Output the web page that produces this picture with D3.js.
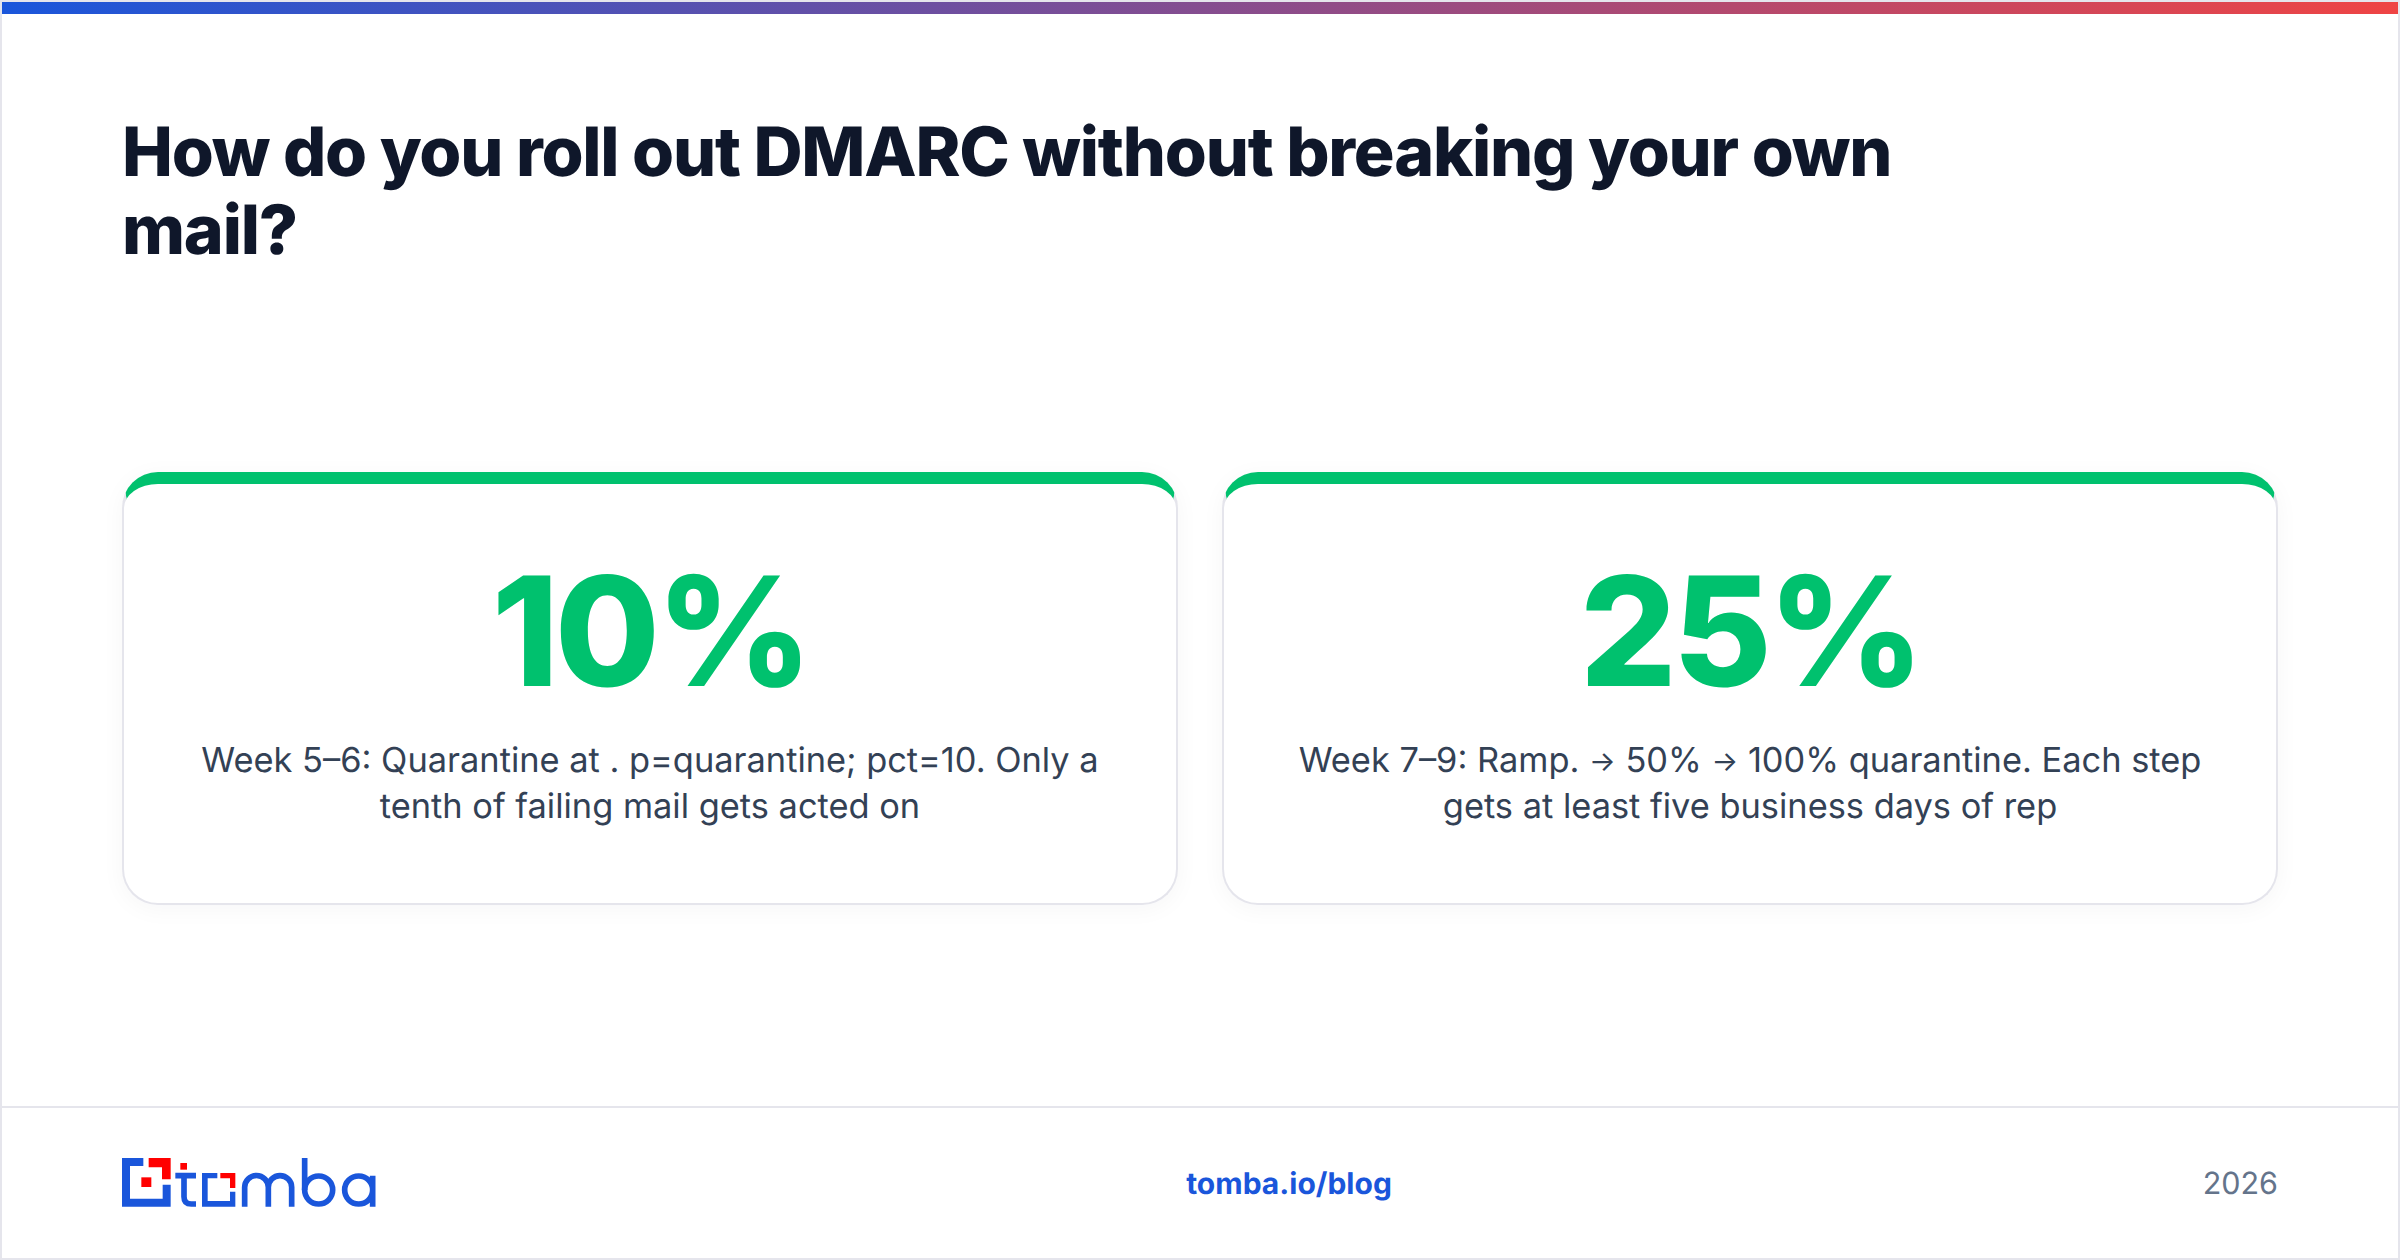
<!DOCTYPE html>
<html>
<head>
<meta charset="utf-8">
<script src="https://cdn.jsdelivr.net/npm/d3@7"></script>
<style>
  html, body { margin: 0; padding: 0; background: #fff; }
  body { width: 2400px; height: 1260px; overflow: hidden; font-family: Inter, sans-serif; text-rendering: geometricPrecision; }
  #frame { position: absolute; left: 0; top: 0; width: 2400px; height: 1260px; box-sizing: border-box;
           border: 2px solid #e5e5ec; background: #fff; }
  #stripe { position: absolute; left: 2px; top: 2px; width: 2396px; height: 12px;
            background: linear-gradient(90deg, #1a56db, #ef4444); }
  #title { position: absolute; left: 122px; top: 113px; width: 1900px; margin: 0; font-size: 68px; line-height: 78px;
           font-weight: 800; letter-spacing: -1.2px; color: #0f172a; }
  .card { position: absolute; top: 472px; width: 1056px; height: 433px; box-sizing: border-box; background: #fff;
          border: 2px solid #e5e5ec; border-top: 12px solid #00c16e; border-radius: 36px;
          box-shadow: 0 4px 24px rgba(15, 23, 42, 0.04); text-align: center; }
  .stat { position: absolute; left: 0; right: 0; top: 71px; font-size: 152px; line-height: 152px; font-weight: 800;
          letter-spacing: -4px; color: #00c16e; }
  .desc { position: absolute; left: 0; right: 0; top: 254px; font-size: 34.4px; line-height: 46px; color: #334155; }
  .arrow { font-size: 28px; line-height: 0; position: relative; top: -1px; }
  #rule { position: absolute; left: 2px; top: 1106px; width: 2396px; height: 2px; background: #e5e5ec; }
  #link { position: absolute; left: 0; width: 2578px; top: 1165px; text-align: center; font-size: 30px; line-height: 38px;
          font-weight: 700; color: #1a56db; }
  #year { position: absolute; right: 122px; top: 1165px; font-size: 30.5px; line-height: 38px; color: #64748b; }
  #logo { position: absolute; left: 80px; top: 1080px; }
</style>
</head>
<body>
<script>
// values
const titleText = "How do you roll out DMARC without breaking your own mail?";
const stats = ["10%", "25%"];
const descriptions = [
  ["Week 5\u20136: Quarantine at . p=quarantine; pct=10. Only a", "tenth of failing mail gets acted on"],
  ["Week 7\u20139: Ramp. \u2192 50% \u2192 100% quarantine. Each step", "gets at least five business days of rep"]
];
const linkText = "tomba.io/blog";
const yearText = "2026";
const cardLefts = [122, 1222];

const body = d3.select("body");
body.append("div").attr("id", "frame");
body.append("div").attr("id", "stripe");
body.append("h1").attr("id", "title").text(titleText);

const cards = body.selectAll("div.card")
  .data(stats)
  .join("div")
    .attr("class", "card")
    .style("left", (d, i) => cardLefts[i] + "px");

cards.append("div").attr("class", "stat").text(d => d);

// the arrow glyph is bigger in Inter here, so it gets its own size
cards.append("div").attr("class", "desc")
  .selectAll("div")
  .data((d, i) => descriptions[i])
  .join("div")
    .html(d => d.replace(/\u2192/g, '<span class="arrow">\u2192</span>'));

body.append("div").attr("id", "rule");
body.append("div").attr("id", "link").text(linkText);
body.append("div").attr("id", "year").text(yearText);

// logo, drawn in a 3x grid
const blue = "#1a56db", red = "#ff0000";
const logo = body.append("svg")
    .attr("id", "logo")
    .attr("width", 400).attr("height", 180)
    .attr("viewBox", "0 0 1200 540");

const fills = [
  [blue, "M126 234H190V258H150V356H248V314H272V380H126Z"],
  [red, "M206 234H272V298H246V262H206Z"],
  [red, "M184 292H214V321H184Z"],
  [red, "M301 249H321V269H301Z"],
  [blue, "M366 279H412V295H383V363H450V335H466V380H366Z"],
  [red, "M421 279H466V324H450V295H421Z"]
];
logo.selectAll("path.f")
  .data(fills)
  .join("path")
    .attr("class", "f")
    .attr("fill", d => d[0])
    .attr("d", d => d[1]);

const strokes = [
  "M286 287H348M312 279V350Q312 372 334 372H348", // t
  "M494 380V322A35 35 0 0 1 565 322V380M565 322A35 35 0 0 1 635 322V380", // m
  "M674 234V330", // b stem
  "M674 330A42 42 0 1 0 758 330A42 42 0 1 0 674 330", // b bowl
  "M794 330A42 42 0 1 0 878 330A42 42 0 1 0 794 330M878 287V380" // a
];
logo.selectAll("path.s")
  .data(strokes)
  .join("path")
    .attr("class", "s")
    .attr("fill", "none")
    .attr("stroke", blue)
    .attr("stroke-width", 17)
    .attr("d", d => d);
</script>
</body>
</html>
